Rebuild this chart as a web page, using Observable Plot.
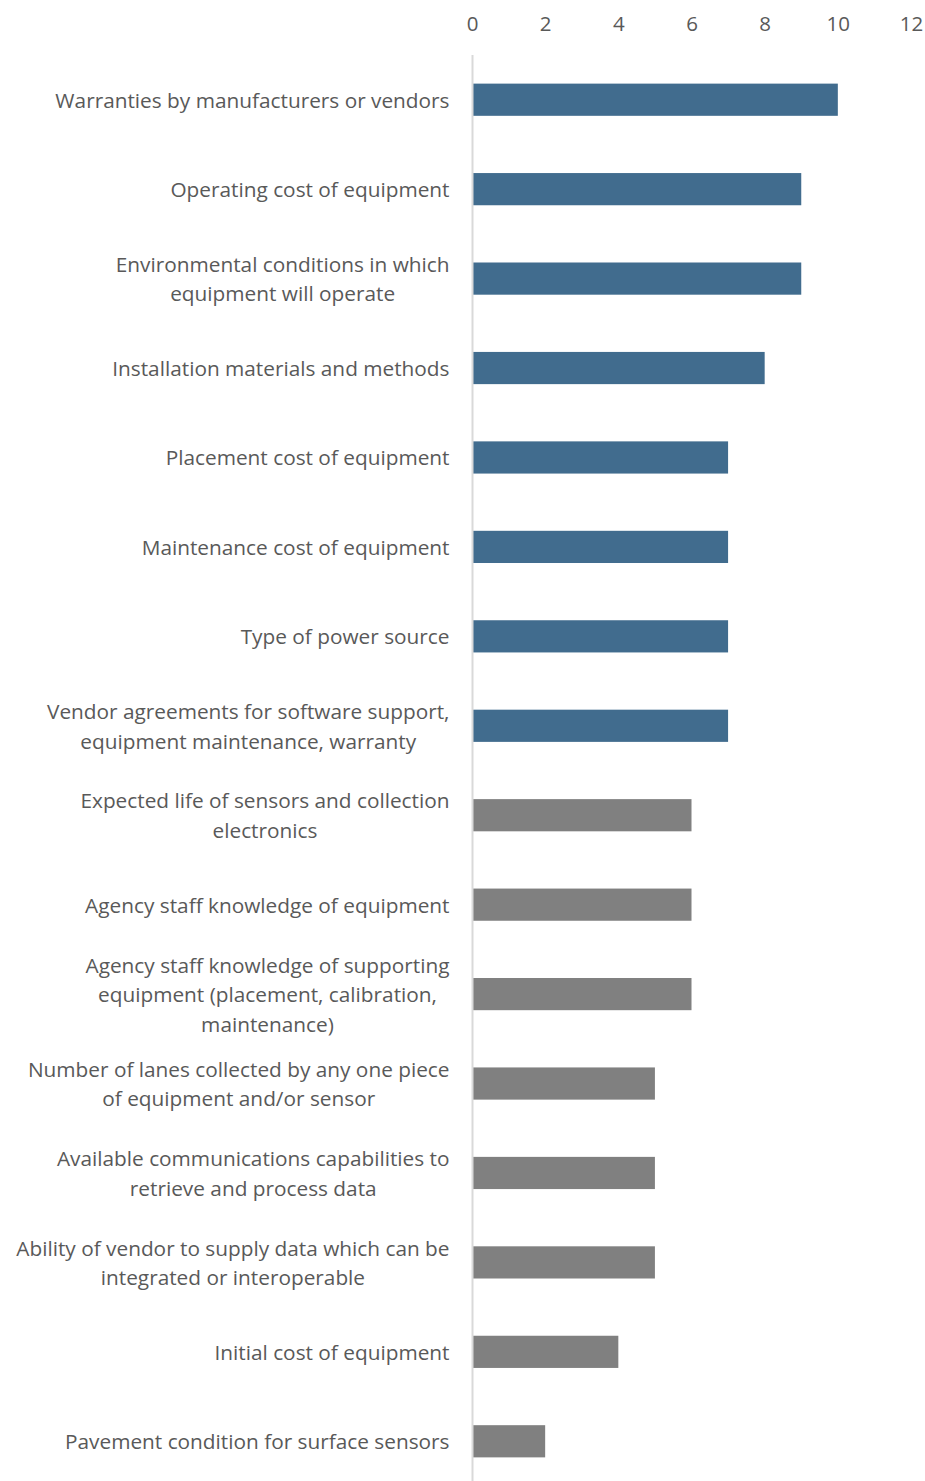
<!DOCTYPE html>
<html>
<head>
<meta charset="utf-8">
<script src="https://cdn.jsdelivr.net/npm/d3@7"></script>
<script src="https://cdn.jsdelivr.net/npm/@observablehq/plot@0.6"></script>
<style>
  html, body { margin: 0; padding: 0; background: #fff; }
  #chart svg { display: block; }
</style>
</head>
<body>
<div id="chart"></div>
<script>
const labels = [
  "Warranties by manufacturers or vendors",
  "Operating cost of equipment",
  "Environmental conditions in which\nequipment will operate",
  "Installation materials and methods",
  "Placement cost of equipment",
  "Maintenance cost of equipment",
  "Type of power source",
  "Vendor agreements for software support,\nequipment maintenance, warranty",
  "Expected life of sensors and collection\nelectronics",
  "Agency staff knowledge of equipment",
  "Agency staff knowledge of supporting\nequipment (placement, calibration,\nmaintenance)",
  "Number of lanes collected by any one piece\nof equipment and/or sensor",
  "Available communications capabilities to\nretrieve and process data",
  "Ability of vendor to supply data which can be\nintegrated or interoperable",
  "Initial cost of equipment",
  "Pavement condition for surface sensors"
];
const values = [10, 9, 9, 8, 7, 7, 7, 7, 6, 6, 6, 5, 5, 5, 4, 2];
const groups = ["top","top","top","top","top","top","top","top",
                "other","other","other","other","other","other","other","other"];
const xTicks = [0, 2, 4, 6, 8, 10, 12];

const data = labels.map((l, i) => ({label: l, value: values[i], group: groups[i]}));

const FONT = "'Open Sans', sans-serif";
const LABEL_SIZE = 20.8;
const ctx = document.createElement("canvas").getContext("2d");
ctx.font = `${LABEL_SIZE}px ${FONT}`;
const blockWidth = (s) => Math.max(...s.split("\n").map(line => ctx.measureText(line).width));

const labelMarks = data.map(d => Plot.text([d], {
  x: 0, y: "label", text: "label", textAnchor: "middle",
  dx: -23 - blockWidth(d.label) / 2, dy: -2,
  fontSize: LABEL_SIZE, lineHeight: 1.42, fill: "#595959"
}));

const chart = Plot.plot({
  width: 925,
  height: 1481,
  marginLeft: 472,
  marginRight: 14,
  marginTop: 55,
  marginBottom: -5,
  style: {fontFamily: FONT, color: "#595959", background: "#fff"},
  x: {domain: [0, 12], ticks: xTicks, axis: null},
  y: {domain: labels, paddingInner: 0.64, paddingOuter: 0.32, round: false, axis: null},
  color: {domain: ["top", "other"], range: ["#416c8e", "#808080"]},
  marks: [
    Plot.axisX({anchor: "top", ticks: xTicks, tickSize: 0, tickPadding: 25, fontSize: 20.5, fill: "#595959", label: null}),
    Plot.barX(data, {x: "value", y: "label", fill: "group"}),
    Plot.ruleX([0], {stroke: "#d9d9d9", strokeWidth: 2}),
    ...labelMarks
  ]
});
document.getElementById("chart").appendChild(chart);
</script>
</body>
</html>
